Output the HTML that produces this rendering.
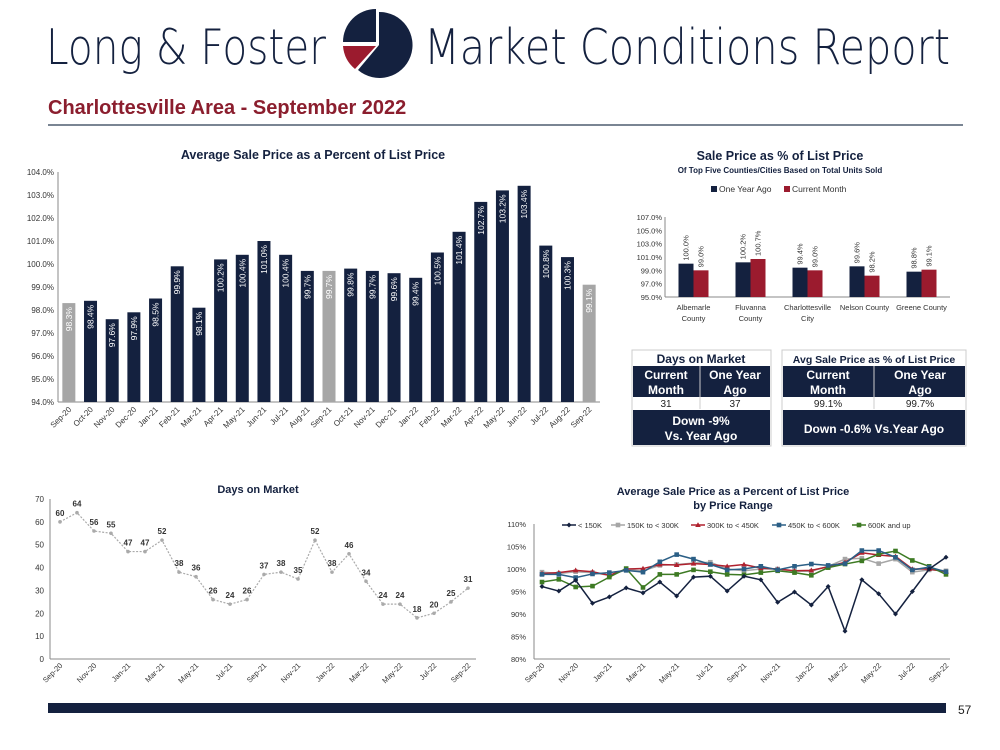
<!DOCTYPE html>
<html><head><meta charset="utf-8"><style>
body{margin:0;background:#fff;font-family:"Liberation Sans",sans-serif;}
svg{display:block}
</style></head><body>
<svg id="s" width="1000" height="750" viewBox="0 0 1000 750" xmlns="http://www.w3.org/2000/svg" font-family="Liberation Sans, sans-serif">
<text x="46" y="64" font-size="49" fill="#14213f" font-family="DejaVu Sans, sans-serif" font-weight="200" textLength="280" lengthAdjust="spacingAndGlyphs">Long &amp; Foster</text>
<g>
<path d="M379,45 L379,12 A33,33 0 1 1 358,70 Z" fill="#14213f"/>
<path d="M376,42 L376,9 A33,33 0 0 0 343,42 Z" fill="#14213f"/>
<path d="M376,46 L343,46 A33,33 0 0 0 355,69 Z" fill="#9b1b2e"/>
</g>
<text x="424" y="64" font-size="49" fill="#14213f" font-family="DejaVu Sans, sans-serif" font-weight="200" textLength="526" lengthAdjust="spacingAndGlyphs">Market Conditions Report</text>
<text x="48" y="114" font-size="20" font-weight="bold" fill="#8b1e2e">Charlottesville Area - September 2022</text>
<rect x="48" y="124" width="915" height="2" fill="#7a8593"/>
<rect x="48" y="703" width="898" height="10" fill="#14213f"/>
<text x="958" y="714" font-size="12" fill="#222">57</text>

<text x="313" y="159" font-size="12.5" font-weight="bold" fill="#14213f" text-anchor="middle">Average Sale Price as a Percent of List Price</text>
<g id="c1"></g>

<text x="780" y="160" font-size="12.5" font-weight="bold" fill="#14213f" text-anchor="middle">Sale Price as % of List Price</text>
<text x="780" y="173" font-size="8" font-weight="bold" fill="#14213f" text-anchor="middle">Of Top Five Counties/Cities Based on Total Units Sold</text>
<g>
<rect x="711" y="186" width="6" height="6" fill="#14213f"/><text x="719" y="192" font-size="8.5" fill="#333">One Year Ago</text>
<rect x="784" y="186" width="6" height="6" fill="#9b1b2e"/><text x="792" y="192" font-size="8.5" fill="#333">Current Month</text>
</g>
<g id="c2"></g>

<g font-weight="bold">
<rect x="632" y="350" width="139" height="96" fill="#fff" stroke="#ccc"/>
<text x="701" y="363" font-size="12" fill="#14213f" text-anchor="middle">Days on Market</text>
<rect x="633" y="366" width="137" height="31" fill="#14213f"/>
<line x1="700" y1="366" x2="700" y2="409" stroke="#ccc"/>
<text x="666" y="379" font-size="12" fill="#fff" text-anchor="middle">Current</text>
<text x="666" y="394" font-size="12" fill="#fff" text-anchor="middle">Month</text>
<text x="735" y="379" font-size="12" fill="#fff" text-anchor="middle">One Year</text>
<text x="735" y="394" font-size="12" fill="#fff" text-anchor="middle">Ago</text>
<text x="666" y="407" font-size="10" font-weight="normal" fill="#222" text-anchor="middle">31</text>
<text x="735" y="407" font-size="10" font-weight="normal" fill="#222" text-anchor="middle">37</text>
<rect x="633" y="410" width="137" height="35" fill="#14213f"/>
<text x="701" y="425" font-size="12" fill="#fff" text-anchor="middle">Down  -9%</text>
<text x="701" y="440" font-size="12" fill="#fff" text-anchor="middle">Vs. Year Ago</text>
</g>
<g font-weight="bold">
<rect x="782" y="350" width="184" height="96" fill="#fff" stroke="#ccc"/>
<text x="874" y="363" font-size="10.5" fill="#14213f" text-anchor="middle">Avg Sale Price as % of List Price</text>
<rect x="783" y="366" width="182" height="31" fill="#14213f"/>
<line x1="874" y1="366" x2="874" y2="409" stroke="#ccc"/>
<text x="828" y="379" font-size="12" fill="#fff" text-anchor="middle">Current</text>
<text x="828" y="394" font-size="12" fill="#fff" text-anchor="middle">Month</text>
<text x="920" y="379" font-size="12" fill="#fff" text-anchor="middle">One Year</text>
<text x="920" y="394" font-size="12" fill="#fff" text-anchor="middle">Ago</text>
<text x="828" y="407" font-size="10" font-weight="normal" fill="#222" text-anchor="middle">99.1%</text>
<text x="920" y="407" font-size="10" font-weight="normal" fill="#222" text-anchor="middle">99.7%</text>
<rect x="783" y="410" width="182" height="35" fill="#14213f"/>
<text x="874" y="433" font-size="12" fill="#fff" text-anchor="middle">Down  -0.6% Vs.Year Ago</text>
</g>

<text x="258" y="493" font-size="11" font-weight="bold" fill="#14213f" text-anchor="middle">Days on Market</text>
<g id="c3"></g>

<text x="733" y="495" font-size="11" font-weight="bold" fill="#14213f" text-anchor="middle">Average Sale Price as a Percent of List Price</text>
<text x="733" y="509" font-size="11" font-weight="bold" fill="#14213f" text-anchor="middle">by Price Range</text>
<g id="c4"></g>
</svg>
<script>
const months=["Sep-20","Oct-20","Nov-20","Dec-20","Jan-21","Feb-21","Mar-21","Apr-21","May-21","Jun-21","Jul-21","Aug-21","Sep-21","Oct-21","Nov-21","Dec-21","Jan-22","Feb-22","Mar-22","Apr-22","May-22","Jun-22","Jul-22","Aug-22","Sep-22"];
const avgSaleValues=[98.3,98.4,97.6,97.9,98.5,99.9,98.1,100.2,100.4,101.0,100.4,99.7,99.7,99.8,99.7,99.6,99.4,100.5,101.4,102.7,103.2,103.4,100.8,100.3,99.1];
const avgTicks=[94,95,96,97,98,99,100,101,102,103,104];
const counties=[["Albemarle","County"],["Fluvanna","County"],["Charlottesville","City"],["Nelson County"],["Greene County"]];
const yearAgoValues=[100.0,100.2,99.4,99.6,98.8];
const currentValues=[99.0,100.7,99.0,98.2,99.1];
const countyTicks=[95,97,99,101,103,105,107];
const domValues=[60,64,56,55,47,47,52,38,36,26,24,26,37,38,35,52,38,46,34,24,24,18,20,25,31];
const domTicks=[0,10,20,30,40,50,60,70];
const seriesNames=["< 150K","150K to < 300K","300K to < 450K","450K to < 600K","600K and up"];
const sUnder150=[96.1,95.1,97.5,92.4,93.8,95.8,94.7,97.1,94.0,98.2,98.4,95.1,98.4,97.6,92.6,94.9,92.0,96.1,86.2,97.6,94.5,90.0,95.0,100.0,102.6];
const s150to300=[99.3,99.0,99.4,99.2,98.6,99.8,99.6,100.8,101.0,101.3,101.5,100.0,99.6,100.0,100.0,99.5,99.5,100.6,102.2,102.4,101.2,102.2,99.3,99.8,99.6];
const s300to450=[99.0,99.2,99.7,99.4,98.6,100.0,100.1,101.0,100.9,101.2,101.0,100.6,101.0,100.2,100.0,99.6,99.7,100.5,101.5,103.6,103.1,102.8,100.0,100.0,99.4];
const s450to600=[98.8,98.8,98.1,98.9,99.2,99.7,99.3,101.6,103.2,102.2,101.0,99.8,100.0,100.6,99.8,100.6,101.1,100.8,101.2,104.1,104.1,102.6,99.8,100.4,99.4];
const s600up=[97.1,97.7,96.0,96.2,98.2,100.1,95.9,98.8,98.8,99.8,99.4,98.8,98.7,99.2,99.6,99.2,98.6,100.3,101.1,101.8,103.3,104.0,101.9,100.6,98.8];
const rangeTicks=[80,85,90,95,100,105,110];
const NS="http://www.w3.org/2000/svg";
function mk(p,t,a,txt){const e=document.createElementNS(NS,t);for(const k in a)e.setAttribute(k,a[k]);if(txt!==undefined)e.textContent=txt;p.appendChild(e);return e;}
const NAVY="#14213f",RED="#9b1b2e",GRAY="#a6a6a6";

// chart1
(function(){
const g=document.getElementById('c1');
const x0=58,x1=600,yT=172,yB=402,mn=94,mx=104;
const y=v=>yB-(v-mn)/(mx-mn)*(yB-yT);
const bw=(x1-x0)/months.length;
mk(g,'line',{x1:x0,y1:yT,x2:x0,y2:yB,stroke:'#888'});
mk(g,'line',{x1:x0,y1:yB,x2:x1,y2:yB,stroke:'#888'});
avgTicks.forEach(t=>{const l=mk(g,'text',{x:x0-4,y:y(t)+3,'font-size':8,'text-anchor':'end',fill:'#333'},t.toFixed(1)+'%');

});
months.forEach((m,i)=>{const cx=x0+bw*(i+0.5),v=avgSaleValues[i];
const gray=(i%12===0);
const r=mk(g,'rect',{x:cx-6.5,y:y(v),width:13,height:yB-y(v),fill:gray?GRAY:NAVY});


const tx=mk(g,'text',{x:0,y:0,'font-size':8.5,fill:'#fff','text-anchor':'end',transform:`translate(${cx+3},${y(v)+4}) rotate(-90)`},v.toFixed(1)+'%');


const xl=mk(g,'text',{x:0,y:0,'font-size':8,fill:'#333','text-anchor':'end',transform:`translate(${cx+3},${yB+8}) rotate(-45)`},m);

});
})();

// chart2
(function(){
const g=document.getElementById('c2');
const x0=665,x1=950,yT=217,yB=297,mn=95,mx=107;
const y=v=>yB-(v-mn)/(mx-mn)*(yB-yT);
const gw=(x1-x0)/counties.length;
mk(g,'line',{x1:x0,y1:yT,x2:x0,y2:yB,stroke:'#888'});
mk(g,'line',{x1:x0,y1:yB,x2:x1,y2:yB,stroke:'#888'});
countyTicks.forEach(t=>{const l=mk(g,'text',{x:x0-3,y:y(t)+3,'font-size':7.5,'text-anchor':'end',fill:'#333'},t.toFixed(1)+'%');

});
counties.forEach((c,i)=>{const cx=x0+gw*(i+0.5);
[[yearAgoValues[i],NAVY,-15],[currentValues[i],RED,0]].forEach(([v,col,off])=>{
const r=mk(g,'rect',{x:cx+off,y:y(v),width:15,height:yB-y(v),fill:col});


const t=mk(g,'text',{x:0,y:0,'font-size':7.5,fill:'#333',transform:`translate(${cx+off+10},${y(v)-3}) rotate(-90)`},v.toFixed(1)+'%');

});
c.forEach((ln,j)=>{const t=mk(g,'text',{x:cx,y:yB+13+j*11,'font-size':7.5,fill:'#333','text-anchor':'middle'},ln);

});});
})();

// chart3
(function(){
const g=document.getElementById('c3');
const x0=50,x1=476,yT=499,yB=659,mn=0,mx=70,px0=60,px1=468;
const y=v=>yB-(v-mn)/(mx-mn)*(yB-yT);
const x=i=>px0+(px1-px0)*i/(months.length-1);
mk(g,'line',{x1:x0,y1:yT,x2:x0,y2:yB,stroke:'#888'});
mk(g,'line',{x1:x0,y1:yB,x2:x1,y2:yB,stroke:'#888'});
domTicks.forEach(t=>{const l=mk(g,'text',{x:x0-6,y:y(t)+3,'font-size':8,'text-anchor':'end',fill:'#333'},t);

});
const pl=mk(g,'polyline',{points:domValues.map((v,i)=>x(i)+','+y(v)).join(' '),fill:'none',stroke:'#aaa','stroke-width':1.2,'stroke-dasharray':'2,1.5'});


domValues.forEach((v,i)=>{const c=mk(g,'circle',{cx:x(i),cy:y(v),r:1.8,fill:'#aaa'});


const t=mk(g,'text',{x:x(i),y:y(v)-6,'font-size':8,'font-weight':'bold','text-anchor':'middle',fill:'#333'},v);

});
months.forEach((m,i)=>{if(i%2)return;const t=mk(g,'text',{x:0,y:0,'font-size':7.5,fill:'#333','text-anchor':'end',transform:`translate(${x(i)+3},${yB+7}) rotate(-45)`},m);

});
})();

// chart4
(function(){
const g=document.getElementById('c4');
const x0=534,x1=950,yT=524,yB=659,mn=80,mx=110,px0=542,px1=946;
const y=v=>yB-(v-mn)/(mx-mn)*(yB-yT);
const x=i=>px0+(px1-px0)*i/(months.length-1);
mk(g,'line',{x1:x0,y1:yT,x2:x0,y2:yB,stroke:'#888'});
mk(g,'line',{x1:x0,y1:yB,x2:x1,y2:yB,stroke:'#888'});
rangeTicks.forEach(t=>{const l=mk(g,'text',{x:x0-8,y:y(t)+3,'font-size':7.5,'text-anchor':'end',fill:'#333'},t+'%');

});
const data=[sUnder150,s150to300,s300to450,s450to600,s600up];
const cols=[NAVY,'#a6a6a6','#b0212e','#2b5f86','#3d7a23'];
const shapes=['d','s','t','s','s'];
const lx=[562,611,691,772,852];
function marker(px,py,k,col){if(k==='d')return mk(g,'path',{d:`M${px},${py-2.5}L${px+2.5},${py}L${px},${py+2.5}L${px-2.5},${py}Z`,fill:col});
if(k==='t')return mk(g,'path',{d:`M${px},${py-2.8}L${px+2.8},${py+2}L${px-2.8},${py+2}Z`,fill:col});
return mk(g,'rect',{x:px-2.3,y:py-2.3,width:4.6,height:4.6,fill:col});}
[1,2,4,3,0].forEach(s=>{
const pl=mk(g,'polyline',{points:data[s].map((v,i)=>x(i)+','+y(v)).join(' '),fill:'none',stroke:cols[s],'stroke-width':1.5});


data[s].forEach((v,i)=>{const m=marker(x(i),y(v),shapes[s],cols[s]);

});});
seriesNames.forEach((n,s)=>{const lg=mk(g,'g',{});


mk(lg,'line',{x1:lx[s],y1:525,x2:lx[s]+14,y2:525,stroke:cols[s],'stroke-width':1.5});
const m=marker(lx[s]+7,525,shapes[s],cols[s]);lg.appendChild(m);
mk(lg,'text',{x:lx[s]+16,y:528,'font-size':7.5,fill:'#333'},n);});
months.forEach((m,i)=>{if(i%2)return;const t=mk(g,'text',{x:0,y:0,'font-size':7.5,fill:'#333','text-anchor':'end',transform:`translate(${x(i)+3},${yB+7}) rotate(-45)`},m);

});
})();
</script>
</body></html>
